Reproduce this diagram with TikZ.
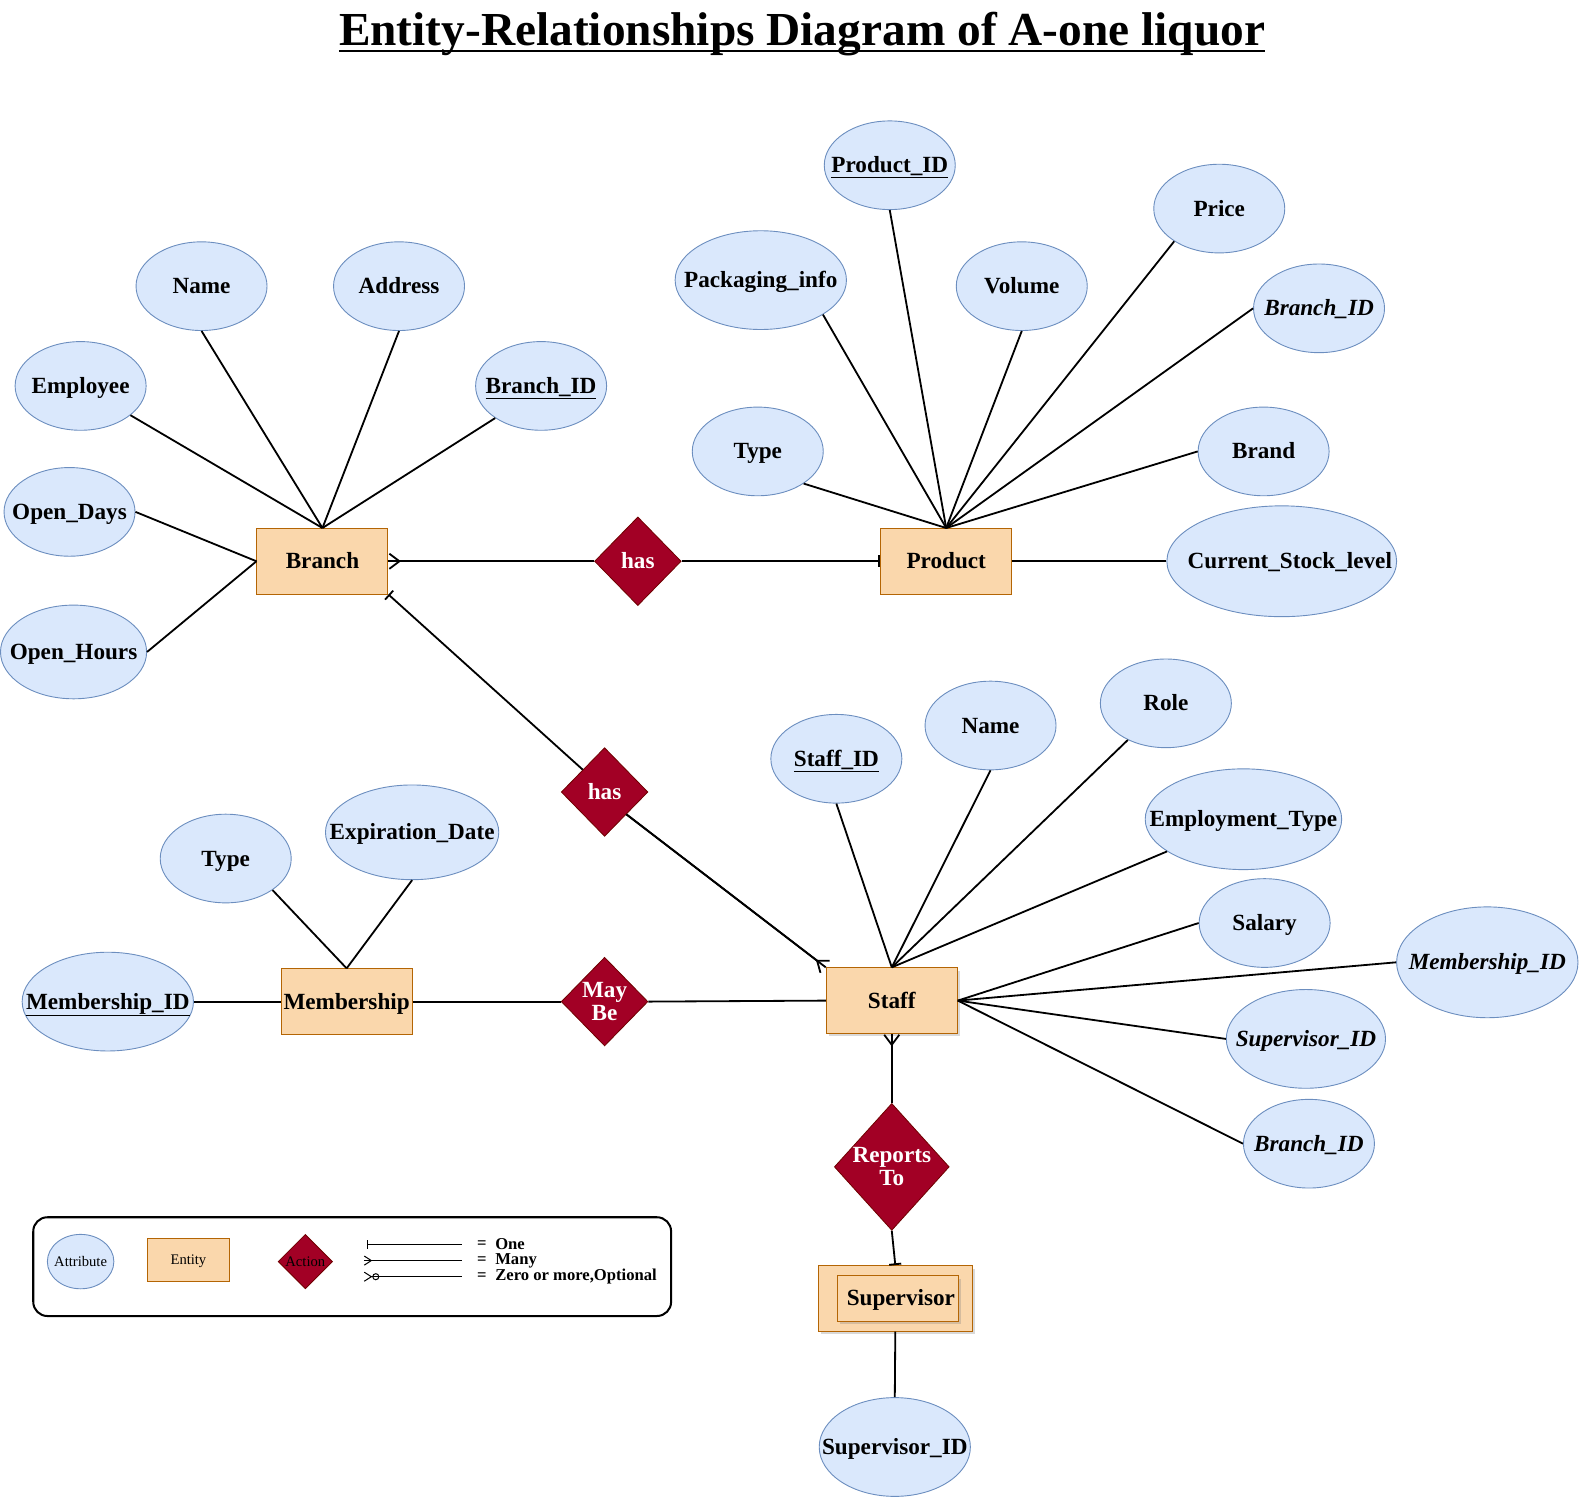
\documentclass[tikz,border=0pt]{standalone}
\usepackage{fontspec}
\setmainfont{Liberation Serif}
\usepackage{tikz}
\usetikzlibrary{arrows.meta, positioning, shapes.geometric, shadows}
\definecolor{attrfill}{HTML}{DAE8FC}
\definecolor{attrdraw}{HTML}{6C8EBF}
\definecolor{entfill}{HTML}{FAD7AC}
\definecolor{entdraw}{HTML}{B46504}
\definecolor{relfill}{HTML}{A20025}
\definecolor{reldraw}{HTML}{6F0000}
\newcommand{\zw}[1]{\makebox[0pt]{#1}}

\begin{document}
\begin{tikzpicture}[x=1pt, y=-1pt,
  font=\fontsize{23}{26}\selectfont\bfseries,
  attr/.style={ellipse, draw=attrdraw, fill=attrfill, line width=0.9pt,
    minimum width=130pt, minimum height=88pt, inner sep=0pt,
    text height=17pt, text depth=2pt},
  ent/.style={rectangle, draw=entdraw, fill=entfill, line width=1pt,
    minimum width=130pt, minimum height=65pt, inner sep=0pt,
    text height=17pt, text depth=2pt},
  rel/.style={diamond, draw=reldraw, fill=relfill, text=white, line width=0.8pt,
    minimum width=86pt, minimum height=88pt, inner sep=0pt},
  shade/.style={drop shadow={shadow xshift=3pt, shadow yshift=-3pt, opacity=0.3}},
  link/.style={line width=1.8pt},
  many/.style={postaction={draw, -{Straight Barb[reversed, length=10pt, width=15pt]}}},
  one/.style={-{Bar[width=12pt]}},
  small/.style={font=\fontsize{14.5}{16}\selectfont, text height=10pt, text depth=1pt},
  key/.style={anchor=west, font=\fontsize{16.5}{18}\selectfont\bfseries},
]
\useasboundingbox (0,0) rectangle (1568,1487);

% title
\node[inner sep=0pt, font=\fontsize{47}{50}\selectfont\bfseries] (title) at (796,34)
  {Entity-Relationships Diagram of A-one liquor};
\draw[line width=2.2pt] ([yshift=-5pt]title.base west) -- ([yshift=-5pt]title.base east);

% entities
\node[ent] (branch) at (320,557) {\zw{Branch}};
\node[ent] (product) at (939,557) {\zw{Product}};
\node[ent, shade] (staff) at (885,993) {\zw{Staff}};
\node[ent] (membership) at (344,994) {\zw{Membership}};
\node[ent, shade, minimum width=153pt] (supervisor) at (888.5,1288.5) {};
\node[ent, shade, minimum width=120pt, minimum height=45pt] (supinner) at (891,1288.5) {\zw{\hspace{6pt}Supervisor}};

% relationships
\node[rel, text height=17pt, text depth=2pt] (has1) at (633,557) {\zw{has}};
\node[rel, text height=17pt, text depth=2pt] (has2) at (600,786) {\zw{has}};
\node[rel] (maybe) at (600,994) {\zw{\shortstack{May\\Be}}};
\node[rel, minimum width=114pt, minimum height=126pt] (reports) at (885,1158) {\zw{\shortstack{Reports\\To}}};

% branch attributes
\node[attr] (bname) at (200,284) {\zw{Name}};
\node[attr] (baddr) at (396,284) {\zw{Address}};
\node[attr] (bemp) at (80,383) {\zw{Employee}};
\node[attr] (bid) at (537,383) {\zw{\underline{Branch\_ID}}};
\node[attr] (bdays) at (69,508) {\zw{Open\_Days}};
\node[attr, minimum width=145pt, minimum height=93pt] (bhours) at (73,647) {\zw{Open\_Hours}};

% product attributes
\node[attr] (pid) at (883,164) {\zw{\underline{Product\_ID}}};
\node[attr] (pprice) at (1210,207) {\zw{Price}};
\node[attr, minimum width=170pt, minimum height=98pt] (ppack) at (755,278) {\zw{Packaging\_info}};
\node[attr] (pvol) at (1014,284) {\zw{Volume}};
\node[attr] (pbid) at (1309,306) {\zw{\itshape Branch\_ID}};
\node[attr] (ptype) at (752,448) {\zw{Type}};
\node[attr] (pbrand) at (1254,448) {\zw{Brand}};
\node[attr, minimum width=228pt, minimum height=110pt] (pstock) at (1272,557) {\zw{\hspace{16pt}Current\_Stock\_level}};

% staff attributes
\node[attr] (sid) at (830,753) {\zw{\underline{Staff\_ID}}};
\node[attr] (sname) at (983,720) {\zw{Name}};
\node[attr] (srole) at (1157,698) {\zw{Role}};
\node[attr, minimum width=195pt, minimum height=100pt] (stype) at (1234,813) {\zw{Employment\_Type}};
\node[attr] (ssal) at (1255,916) {\zw{Salary}};
\node[attr, minimum width=180pt, minimum height=110pt] (smem) at (1476,955) {\zw{\itshape Membership\_ID}};
\node[attr, minimum width=158pt, minimum height=98pt] (ssup) at (1296,1031) {\zw{\itshape Supervisor\_ID}};
\node[attr] (sbid) at (1299,1135) {\zw{\itshape Branch\_ID}};

% membership + supervisor attributes
\node[attr] (mtype) at (224,852) {\zw{Type}};
\node[attr, minimum width=172pt, minimum height=94pt] (mexp) at (409,826) {\zw{Expiration\_Date}};
\node[attr, minimum width=170pt, minimum height=98pt] (mid) at (107,994) {\zw{\underline{Membership\_ID}}};
\node[attr, minimum width=150pt, minimum height=98pt] (supid) at (888,1436) {\zw{Supervisor\_ID}};

% attribute links
\draw[link] (bname.south) -- (branch.north);
\draw[link] (baddr.south) -- (branch.north);
\draw[link] (bemp) -- (branch.north);
\draw[link] (bid.215) -- (branch.north);
\draw[link] (bdays.east) -- (branch.west);
\draw[link] (bhours.east) -- (branch.west);

\draw[link] (pid.south) -- (product.north);
\draw[link] (ppack.-29) -- (product.north);
\draw[link] (pvol.south) -- (product.north);
\draw[link] (pprice.216) -- (product.north);
\draw[link] (pbid.west) -- (product.north);
\draw[link] (pbrand.west) -- (product.north);
\draw[link] (ptype.-35) -- (product.north);
\draw[link] (product.east) -- (pstock.west);

\draw[link] (sid.south) -- (staff.north);
\draw[link] (sname.south) -- (staff.north);
\draw[link] (srole) -- (staff.north);
\draw[link] (stype) -- (staff.north);
\draw[link] (ssal.west) -- (staff.east);
\draw[link] (smem.west) -- (staff.east);
\draw[link] (ssup.west) -- (staff.east);
\draw[link] (sbid.west) -- (staff.east);

\draw[link] (mtype.-34) -- (membership.north);
\draw[link] (mexp.south) -- (membership.north);
\draw[link] (mid.east) -- (membership.west);
\draw[link] (supervisor.south) -- (supid.north);

% relationship links
\draw[link, many] (has1.west) -- (branch.east);
\draw[link, one] (has1.east) -- (product.west);
\draw[link, one] (has2.north west) -- (branch.south east);
\draw[link, many] (has2.south east) -- (staff.north west);
\draw[link] (membership.east) -- (maybe.west);
\draw[link] (maybe.east) -- (staff.west);
\draw[link, many] (reports.north) -- (staff.south);
\draw[link, one] (reports.south) -- (supervisor.north);

% legend
\draw[line width=2pt, rounded corners=14pt] (33,1208) rectangle (666,1306);
\node[attr, small, minimum width=66pt, minimum height=54pt] (lattr) at (80,1252) {\zw{Attribute}};
\node[ent, small, minimum width=82pt, minimum height=43pt] (lent) at (187,1250.5) {\zw{Entity}};
\node[rel, small, text=black, minimum width=54pt, minimum height=54pt] (lrel) at (303,1252) {\zw{Action}};
\coordinate (lonea) at (361,1235); \coordinate (loneb) at (458,1235);
\coordinate (lmanya) at (361,1251); \coordinate (lmanyb) at (458,1251);
\coordinate (lzeroa) at (361,1267); \coordinate (lzerob) at (458,1267);
\draw[line width=1pt, {Bar[width=9pt, sep=3pt]}-] (lonea) -- (loneb);
\draw[line width=1pt, postaction={draw, {Straight Barb[reversed, length=7pt, width=9pt]}-}] (lmanya) -- (lmanyb);
\draw[line width=1pt, {Straight Barb[reversed, length=7pt, width=9pt] Circle[open, length=7pt]}-] (lzeroa) -- (lzerob);
\node[key] (leqa) at (470,1235) {=};
\node[key] (leqb) at (470,1251) {=};
\node[key] (leqc) at (470,1267) {=};
\node[key] (lone) at (488,1235) {One};
\node[key] (lmany) at (488,1251) {Many};
\node[key] (lzero) at (488,1267) {Zero or more,Optional};
\end{tikzpicture}
\end{document}
